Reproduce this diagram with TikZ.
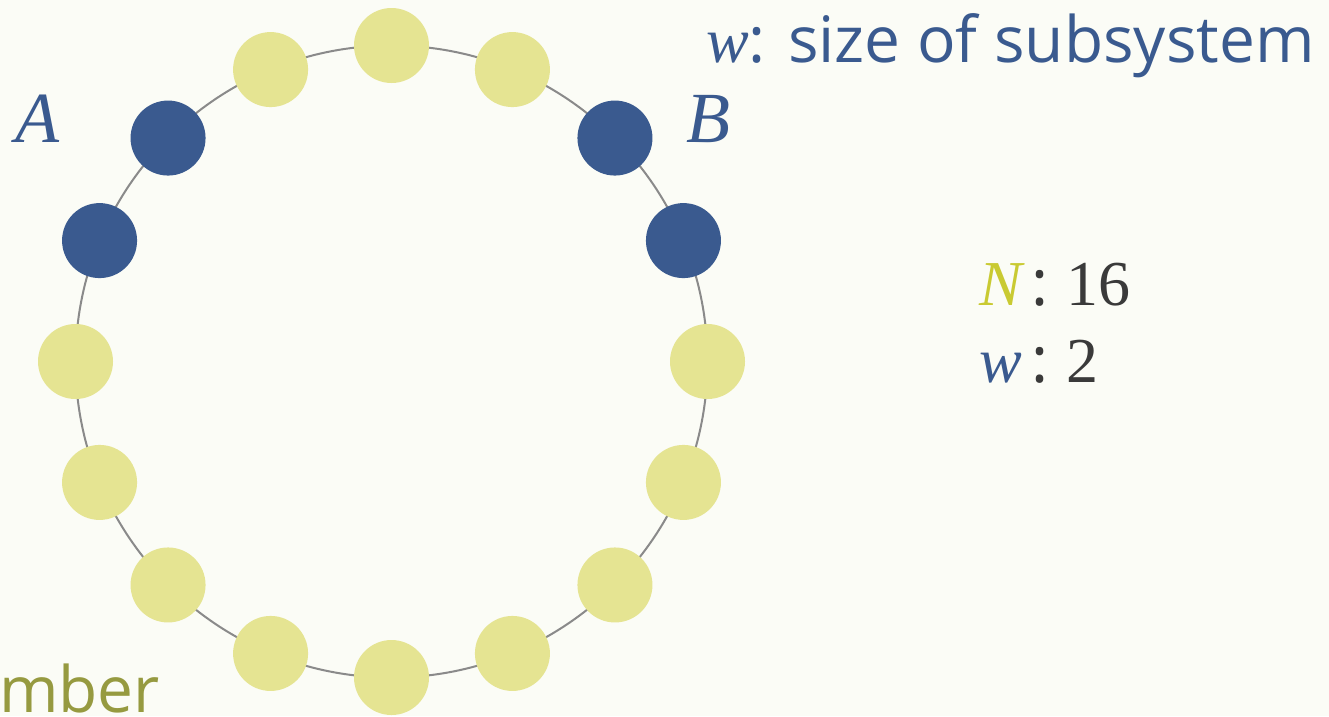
\documentclass[tikz,border=0pt]{standalone}
\usepackage{fontspec}
\usetikzlibrary{calc}
\setmainfont{Open Sans}
\newfontfamily\mathserif{Liberation Serif}
\definecolor{bg}{HTML}{FBFCF6}
\definecolor{darkb}{HTML}{3A5A8F}
\definecolor{lighty}{HTML}{E5E492}
\definecolor{ringgray}{HTML}{8A8A8A}
\definecolor{ny}{HTML}{C9CA32}
\definecolor{olive}{HTML}{969A40}
\definecolor{darktext}{HTML}{3A3A3A}
\tikzset{
  site/.style={circle, inner sep=0pt, minimum size=75pt, fill=lighty},
  subsite/.style={site, fill=darkb},
  lbl/.style={inner sep=0pt, anchor=base west},
}
\newcommand{\mvar}[1]{{\mathserif\itshape #1}}
\begin{document}
\begin{tikzpicture}[x=1pt,y=-1pt]
\path[use as bounding box, fill=bg] (0,0) rectangle (1329,716);
\begin{scope}
\clip (0,0) rectangle (1329,716);
\coordinate (c) at (391.5,361.5);
\draw[ringgray, line width=2pt] (c) circle[radius=316];
\foreach \i in {0,...,15}{
  \pgfmathsetmacro{\ang}{90-22.5*\i}
  \ifnum\i=2 \def\st{subsite}\else\ifnum\i=3 \def\st{subsite}\else
  \ifnum\i=13 \def\st{subsite}\else\ifnum\i=14 \def\st{subsite}\else
  \def\st{site}\fi\fi\fi\fi
  \node[\st] (n\i) at ($(c)+({316*cos(\ang)},{-316*sin(\ang)})$) {};
}
\node[lbl, text=darkb, font=\fontsize{64}{64}\selectfont] (title) at (706,62) {\mvar{w}: size of subsystem};
\node[lbl, text=darkb, font=\fontsize{72}{72}\selectfont] (la) at (15,142) {\mvar{A}};
\node[lbl, text=darkb, font=\fontsize{72}{72}\selectfont] (lb) at (686,142) {\mvar{B}};
\node[lbl, font=\fontsize{64}{64}\selectfont] (nn) at (979,305) {\textcolor{ny}{\mvar{N}}\kern10pt\textcolor{darktext}{:\kern18pt{\mathserif 16}}};
\node[lbl, font=\fontsize{64}{64}\selectfont] (ww) at (979,382) {\textcolor{darkb}{\mvar{w}}\kern10pt\textcolor{darktext}{:\kern18pt{\mathserif 2}}};
\node[inner sep=0pt, anchor=base east, text=olive, font=\fontsize{64}{64}\selectfont] (mb) at (160,712) {mber};
\end{scope}
\end{tikzpicture}
\end{document}
